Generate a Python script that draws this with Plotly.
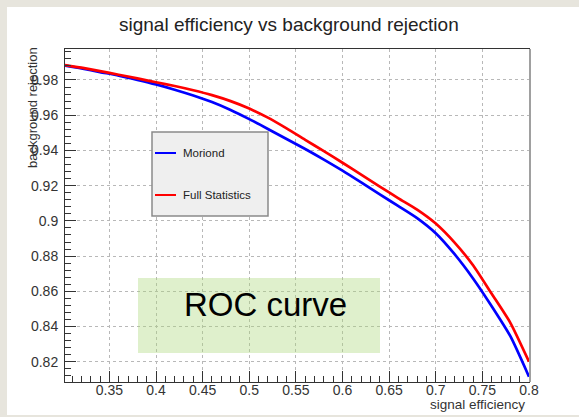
import plotly.graph_objects as go

# ---------------- data ----------------
signal_eff = [0.3024, 0.32, 0.34, 0.36, 0.38, 0.40, 0.42, 0.44, 0.46, 0.48, 0.50,
              0.52, 0.54, 0.56, 0.58, 0.60, 0.62, 0.64, 0.66, 0.68, 0.70,
              0.72, 0.74, 0.76, 0.78, 0.80]
moriond_rej = [0.9882, 0.9866, 0.9845, 0.9825, 0.9801, 0.9775, 0.9745, 0.9712, 0.9675, 0.9630, 0.9578,
               0.9522, 0.9465, 0.9408, 0.9348, 0.9285, 0.9218, 0.9150, 0.9084, 0.9016, 0.8930,
               0.8812, 0.8673, 0.8515, 0.8345, 0.8115]
fullstat_rej = [0.9885, 0.9870, 0.9850, 0.9830, 0.9809, 0.9787, 0.9766, 0.9742, 0.9714, 0.9680, 0.9638,
                0.9586, 0.9525, 0.9460, 0.9396, 0.9330, 0.9263, 0.9195, 0.9128, 0.9064, 0.8985,
                0.8878, 0.8748, 0.8586, 0.8421, 0.8200]
series_names = ["Moriond", "Full Statistics"]
series_colors = ["#0000ff", "#ff0000"]

x_tick_vals = [0.35, 0.40, 0.45, 0.50, 0.55, 0.60, 0.65, 0.70, 0.75, 0.80]
x_tick_text = ["0.35", "0.4", "0.45", "0.5", "0.55", "0.6", "0.65", "0.7", "0.75", "0.8"]
y_tick_vals = [0.82, 0.84, 0.86, 0.88, 0.90, 0.92, 0.94, 0.96, 0.98]
y_tick_text = ["0.82", "0.84", "0.86", "0.88", "0.9", "0.92", "0.94", "0.96", "0.98"]

title_text = "signal efficiency vs background rejection"
x_title = "signal efficiency"
y_title = "background rejection"
box_text = "ROC curve"

# ---------------- layout geometry (pixels) ----------------
W, H = 579, 417
L, R, T, B = 65, 529, 49, 382


def px(x):
    return (x - L) / (R - L)


def py(y):
    return (B - y) / (B - T)


FONT = "Liberation Sans, Arial, Helvetica, sans-serif"

fig = go.Figure()
for name, vals, col in zip(series_names, [moriond_rej, fullstat_rej], series_colors):
    fig.add_trace(go.Scatter(x=signal_eff, y=vals, mode="lines", name=name,
                             line=dict(color=col, width=2.7, shape="spline", smoothing=0.6),
                             showlegend=False))

axis_common = dict(
    showline=True, linecolor="#333333", linewidth=1, mirror=True,
    ticks="inside", ticklen=11, tickcolor="#333333", tickwidth=1,
    showgrid=True, gridcolor="#b8b8b8", griddash="dot", gridwidth=1,
    zeroline=False, tickfont=dict(family=FONT, size=14, color="#333333"),
)

fig.update_xaxes(range=[0.3024, 0.8], tickmode="array", tickvals=x_tick_vals,
                 ticktext=x_tick_text, ticklabelstandoff=-5,
                 minor=dict(tick0=0.30, dtick=0.01, ticks="inside", ticklen=6,
                            tickcolor="#333333", showgrid=False),
                 **axis_common)
fig.update_yaxes(range=[0.8085, 0.9976], tickmode="array", tickvals=y_tick_vals,
                 ticktext=y_tick_text, ticklabelstandoff=3,
                 minor=dict(tick0=0.80, dtick=0.004, ticks="inside", ticklen=6,
                            tickcolor="#333333", showgrid=False),
                 **axis_common)

shapes = [
    # white canvas on marble background
    dict(type="rect", xref="paper", yref="paper", x0=px(7), x1=px(579), y0=py(415), y1=py(7),
         fillcolor="white", line=dict(width=0), layer="below"),
    # frame shadow on the right
    dict(type="line", xref="paper", yref="paper", x0=px(530), x1=px(530), y0=py(382), y1=py(49),
         line=dict(color="#a0a0a0", width=2), layer="above"),
    # legend box
    dict(type="rect", xref="paper", yref="paper", x0=px(152), x1=px(268), y0=py(216), y1=py(132),
         fillcolor="#efefef", line=dict(color="#8a8a8a", width=1.5), layer="above"),
    dict(type="line", xref="paper", yref="paper", x0=px(155), x1=px(176), y0=py(153), y1=py(153),
         line=dict(color=series_colors[0], width=2), layer="above"),
    dict(type="line", xref="paper", yref="paper", x0=px(155), x1=px(176), y0=py(195), y1=py(195),
         line=dict(color=series_colors[1], width=2), layer="above"),
    # ROC curve highlighted box
    dict(type="rect", xref="paper", yref="paper", x0=px(138), x1=px(380), y0=py(353), y1=py(278),
         fillcolor="rgba(170,215,120,0.38)", line=dict(width=0), layer="above"),
]

annotations = [
    dict(text=title_text, xref="paper", yref="paper", x=px(289), y=py(24),
         xanchor="center", yanchor="middle", showarrow=False,
         font=dict(family=FONT, size=19, color="#222222")),
    dict(text=x_title, xref="paper", yref="paper", x=px(527), y=py(404),
         xanchor="right", yanchor="middle", showarrow=False,
         font=dict(family=FONT, size=13.5, color="#333333")),
    dict(text=y_title, xref="paper", yref="paper", x=px(32), y=py(108),
         xanchor="center", yanchor="middle", textangle=-90, showarrow=False,
         font=dict(family=FONT, size=13, color="#333333")),
    dict(text=series_names[0], xref="paper", yref="paper", x=px(181), y=py(153),
         xanchor="left", yanchor="middle", showarrow=False,
         font=dict(family=FONT, size=11.5, color="#222222")),
    dict(text=series_names[1], xref="paper", yref="paper", x=px(181), y=py(195),
         xanchor="left", yanchor="middle", showarrow=False,
         font=dict(family=FONT, size=11.5, color="#222222")),
    dict(text=box_text, xref="paper", yref="paper", x=px(265), y=py(304),
         xanchor="center", yanchor="middle", showarrow=False,
         font=dict(family=FONT, size=33, color="#000000")),
]

fig.update_layout(
    width=W, height=H, autosize=False,
    margin=dict(l=L, r=W - R, t=T, b=H - B, pad=0),
    paper_bgcolor="#e7e5dd", plot_bgcolor="white",
    shapes=shapes, annotations=annotations, showlegend=False,
)

fig.write_html("out.html", config={"displayModeBar": False},
               post_script="document.body.style.margin='0';document.body.style.padding='0';")
